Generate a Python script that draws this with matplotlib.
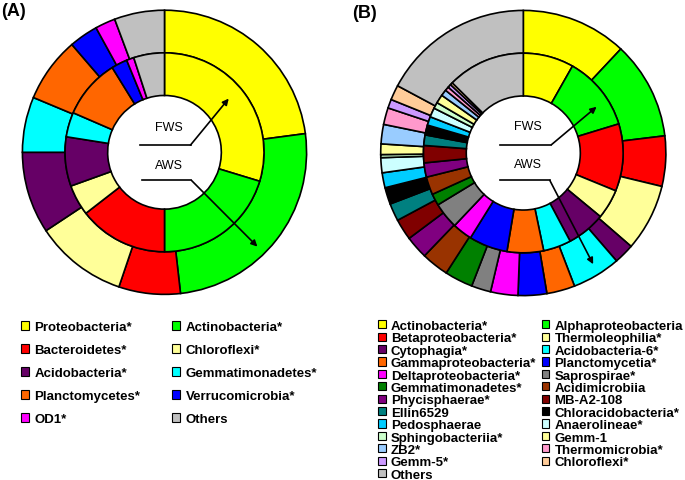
import numpy as np
import matplotlib
matplotlib.use("Agg")
import matplotlib.pyplot as plt
from matplotlib.patches import Patch

plt.rcParams['font.family'] = ['Liberation Sans', 'DejaVu Sans']

# ---- panel A: phyla (inner ring = FWS, outer ring = AWS), % of reads
phyla = ['Proteobacteria*', 'Actinobacteria*', 'Bacteroidetes*', 'Chloroflexi*',
         'Acidobacteria*', 'Gemmatimonadetes*', 'Planctomycetes*',
         'Verrucomicrobia*', 'OD1*', 'Others']
phyla_colors = ['#FFFF00', '#00FF00', '#FF0000', '#FFFF99', '#660066',
                '#00FFFF', '#FF6600', '#0000FF', '#FF00FF', '#C0C0C0']
phyla_fws = [29.7, 20.3, 14.5, 5.0, 8.0, 4.0, 9.7, 2.6, 1.2, 5.0]
phyla_aws = [22.9, 25.3, 7.0, 10.5, 9.3, 6.3, 7.4, 3.3, 2.3, 5.7]

# ---- panel B: classes
classes = ['Actinobacteria*', 'Alphaproteobacteria', 'Betaproteobacteria*',
           'Thermoleophilia*', 'Cytophagia*', 'Acidobacteria-6*',
           'Gammaproteobacteria*', 'Planctomycetia*', 'Deltaproteobacteria*',
           'Saprospirae*', 'Gemmatimonadetes*', 'Acidimicrobiia',
           'Phycisphaerae*', 'MB-A2-108', 'Ellin6529', 'Chloracidobacteria*',
           'Pedosphaerae', 'Anaerolineae*', 'Sphingobacteriia*', 'Gemm-1',
           'ZB2*', 'Thermomicrobia*', 'Gemm-5*', 'Chloroflexi*', 'Others']
class_colors = ['#FFFF00', '#00FF00', '#FF0000', '#FFFF99', '#660066',
                '#00FFFF', '#FF6600', '#0000FF', '#FF00FF', '#808080',
                '#008000', '#993300', '#800080', '#800000', '#008080',
                '#000000', '#00CCFF', '#CCFFFF', '#CCFFCC', '#FFFF99',
                '#99CCFF', '#FF99CC', '#CC99FF', '#FFCC99', '#C0C0C0']
class_fws = [8.2, 12.1, 10.9, 4.8, 6.25, 4.5, 5.9, 6.25, 3.2, 4.25,
             1.9, 2.9, 2.3, 2.8, 1.7, 1.6, 1.4, 1.5, 1.0, 1.4,
             1.0, 0.65, 0.55, 0.4, 12.6]
class_aws = [12.0, 11.1, 5.7, 7.6, 2.3, 5.5, 3.2, 3.25, 3.1, 2.2,
             3.2, 3.1, 2.6, 2.4, 2.0, 1.9, 1.7, 1.7, 0.35, 1.2,
             2.2, 1.9, 1.0, 1.7, 17.2]

W, H = 685, 481
fig = plt.figure(figsize=(W / 100, H / 100), dpi=100)


def px_axes(cx, cy, r):
    return fig.add_axes([(cx - r) / W, 1 - (cy + r) / H, 2 * r / W, 2 * r / H])


def donut(ax, inner, outer, colors):
    wp = dict(width=0.30, edgecolor='black', linewidth=1.2)
    ax.pie(outer, radius=1.0, colors=colors, startangle=90,
           counterclock=False, wedgeprops=wp)
    ax.pie(inner, radius=0.70, colors=colors, startangle=90,
           counterclock=False, wedgeprops=wp)
    ax.set_xlim(-1.01, 1.01)
    ax.set_ylim(-1.01, 1.01)
    ax.set_aspect('equal')
    ax.axis('off')


def pointer(ax, label, ty, x0, x1, ly, end):
    ax.text(0.03, ty, label, ha='center', va='center', fontsize=9)
    ax.plot([x0, x1], [ly, ly], color='black', lw=1.2)
    ax.annotate('', xy=end, xytext=(x1, ly),
                arrowprops=dict(arrowstyle='-|>', color='black', lw=1.2,
                                mutation_scale=9, shrinkA=0, shrinkB=0))


def row_major(names, colors, ncol=2):
    handles = [Patch(facecolor=c, edgecolor='black', linewidth=0.8) for c in colors]
    order = [i for c in range(ncol) for i in range(c, len(names), ncol)]
    return [handles[i] for i in order], [names[i] for i in order]


# panel A
axA = px_axes(164.5, 153.3, 143.5)
donut(axA, phyla_fws, phyla_aws, phyla_colors)
pointer(axA, 'FWS', 0.18, -0.171, 0.183, 0.051, (0.452, 0.378))
pointer(axA, 'AWS', -0.09, -0.159, 0.19, -0.198, (0.654, -0.664))

# panel B
axB = px_axes(523.3, 154.0, 144.0)
donut(axB, class_fws, class_aws, class_colors)
pointer(axB, 'FWS', 0.19, -0.162, 0.197, 0.058, (0.514, 0.324))
pointer(axB, 'AWS', -0.08, -0.162, 0.186, -0.192, (0.49, -0.78))

fig.text(1 / W, 1 - 11 / H, '(A)', fontsize=13, fontweight='bold', va='center')
fig.text(352 / W, 1 - 13 / H, '(B)', fontsize=13, fontweight='bold', va='center')

hA, lA = row_major(phyla, phyla_colors)
fig.legend(hA, lA, ncol=2, loc='upper left',
           bbox_to_anchor=(21 / W, 1 - 322 / H), frameon=False,
           prop=dict(size=9.5, weight='bold'), borderpad=0, borderaxespad=0,
           handlelength=0.62, handleheight=0.62, handletextpad=0.4,
           labelspacing=0.84, columnspacing=2.4)

hB, lB = row_major(classes, class_colors)
fig.legend(hB, lB, ncol=2, loc='upper left',
           bbox_to_anchor=(378 / W, 1 - 321 / H), frameon=False,
           prop=dict(size=9.5, weight='bold'), borderpad=0, borderaxespad=0,
           handlelength=0.58, handleheight=0.58, handletextpad=0.4,
           labelspacing=0.03, columnspacing=0.4)

fig.savefig('out.png', dpi=100)
